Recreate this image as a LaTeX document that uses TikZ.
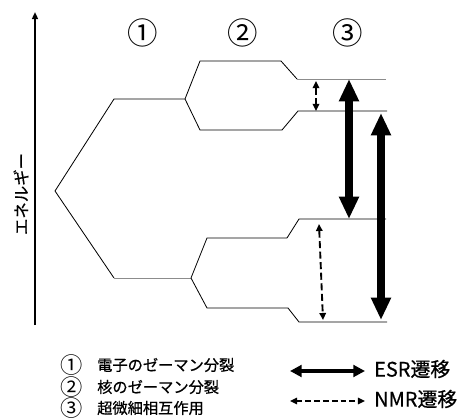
\documentclass[tikz,border=0pt]{standalone}
\usepackage{fontspec}
\setmainfont{Noto Sans CJK JP}[FakeBold=0.6]
\newfontfamily\circfont{Noto Sans CJK JP}
\usetikzlibrary{arrows.meta}
\definecolor{inkmain}{HTML}{000000}
\definecolor{graylevel}{HTML}{8C8C8C}
\tikzset{
  level/.style={inkmain,line width=0.7pt},
  levelgray/.style={graylevel,line width=0.8pt},
  esr/.style={inkmain,line width=7.5pt,
    {Triangle[width=16pt,length=19pt]}-{Triangle[width=16pt,length=19pt]}},
  esrkey/.style={inkmain,line width=3.4pt,
    {Triangle[width=10pt,length=10pt]}-{Triangle[width=10pt,length=10pt]}},
  nmr/.style={inkmain,line width=1.6pt,dash pattern=on 6pt off 3pt,
    {Triangle[width=5.5pt,length=6pt]}-{Triangle[width=5.5pt,length=6pt]}},
  every node/.append style={inner sep=0pt}
}

\begin{document}
\begin{tikzpicture}[x=0.03cm,y=-0.03cm]
  \useasboundingbox (0,0) rectangle (473,419);
  % energy axis
  \coordinate (axislow) at (35,325);
  \coordinate (axishigh) at (35,12);
  \draw[line width=1.5pt,-{Triangle[width=5pt,length=6pt]}] (axislow)--(axishigh);
  \node[rotate=90,font=\fontsize{14pt}{16pt}\selectfont] (elabel) at (21,194) {エネルギー};
  % stage labels
  \foreach \nn/\xx in {①/143,②/243,③/348}
    \node[font=\circfont\fontsize{26pt}{28pt}\selectfont] at (\xx,33) {\nn};
  % levels
  \coordinate (root) at (55,191);
  \coordinate (a1) at (114,99);  \coordinate (a2) at (185,99);
  \coordinate (b1) at (114,278); \coordinate (b2) at (191,278);
  \coordinate (aa1) at (200,61);  \coordinate (aa2) at (281,61);
  \coordinate (ab1) at (200,130); \coordinate (ab2) at (282,130);
  \coordinate (ba1) at (207,238); \coordinate (ba2) at (287,238);
  \coordinate (bb1) at (207,308); \coordinate (bb2) at (288,308);
  \coordinate (aaa1) at (297,79);  \coordinate (aaa2) at (386,79);
  \coordinate (aba1) at (298,111); \coordinate (aba2) at (387,111);
  \coordinate (baa1) at (299,219); \coordinate (baa2) at (386,219);
  \coordinate (bba1) at (299,322); \coordinate (bba2) at (387,322);
  \draw[level] (root)--(a1)--(a2);
  \draw[level] (root)--(b1);
  \draw[levelgray] (b1)--(b2);
  \draw[level] (a2)--(aa1)--(aa2);
  \draw[level] (a2)--(ab1)--(ab2);
  \draw[level] (b2)--(ba1)--(ba2);
  \draw[level] (b2)--(bb1)--(bb2);
  \draw[level] (aa2)--(aaa1);
  \draw[levelgray] (aaa1)--(aaa2);
  \draw[level] (ab2)--(aba1)--(aba2);
  \draw[level] (ba2)--(baa1)--(baa2);
  \draw[level] (bb2)--(bba1)--(bba2);
  % transitions
  \coordinate (esrAtop) at (349,79);  \coordinate (esrAbot) at (349,219);
  \coordinate (esrBtop) at (381,113); \coordinate (esrBbot) at (381,320);
  \coordinate (nmrAtop) at (316,81);  \coordinate (nmrAbot) at (316,111);
  \coordinate (nmrBtop) at (319,224); \coordinate (nmrBbot) at (323,320);
  \draw[esr] (esrAtop)--(esrAbot);
  \draw[esr] (esrBtop)--(esrBbot);
  \draw[nmr] (nmrAtop)--(nmrAbot);
  \draw[nmr] (nmrBtop)--(nmrBbot);
  % legend
  \foreach \nn/\txt/\yy in {①/電子のゼーマン分裂/365,②/核のゼーマン分裂/387,③/超微細相互作用/408} {
    \node[font=\circfont\fontsize{19pt}{20pt}\selectfont] at (72,\yy) {\nn};
    \node[anchor=west,font=\fontsize{13pt}{15pt}\selectfont] at (97,\yy) {\txt};
  }
  \coordinate (esrkeyL) at (290,371); \coordinate (esrkeyR) at (365,371);
  \coordinate (nmrkeyL) at (290,401); \coordinate (nmrkeyR) at (365,401);
  \draw[esrkey] (esrkeyL)--(esrkeyR);
  \draw[nmr,line width=1.4pt,dash pattern=on 5pt off 2.5pt] (nmrkeyL)--(nmrkeyR);
  \node[anchor=west,font=\fontsize{17pt}{19pt}\selectfont] (esrtext) at (374,369) {ESR遷移};
  \node[anchor=west,font=\fontsize{17pt}{19pt}\selectfont] (nmrtext) at (374,399) {NMR遷移};
\end{tikzpicture}
\end{document}
